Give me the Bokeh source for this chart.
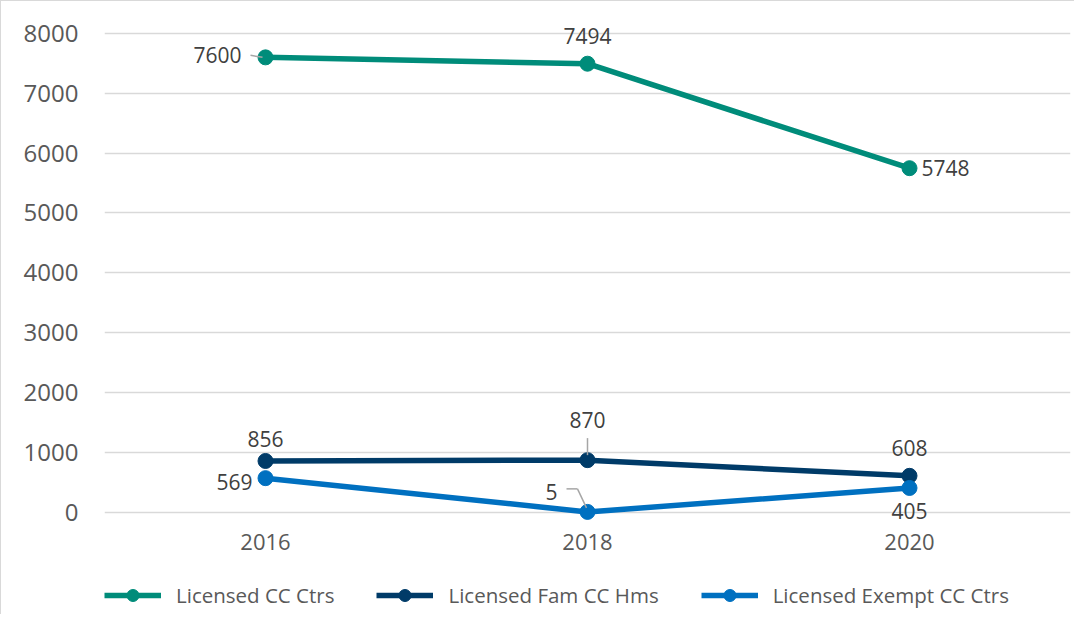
from bokeh.plotting import figure
from bokeh.models import ColumnDataSource, Legend, LegendItem, Range1d, FactorRange, FixedTicker
from bokeh.transform import dodge
from bokeh.core.properties import value
from bokeh.embed import file_html
from bokeh.resources import INLINE

years = ["2016", "2018", "2020"]
ctrs = [7600, 7494, 5748]
fam = [856, 870, 608]
exempt = [569, 5, 405]
series_names = ["Licensed CC Ctrs", "Licensed Fam CC Hms", "Licensed Exempt CC Ctrs"]
colors = ["#008C7A", "#003B68", "#0070C0"]
y_ticks = [0, 1000, 2000, 3000, 4000, 5000, 6000, 7000, 8000]

FONT = "Open Sans"
W, H = 1074, 614
MBT, MBB = 2, 0
ppu = 478 / 8000.0  # px per data unit
Y1 = 8500
Y0 = Y1 - (H - 1 - MBT - MBB) / ppu
cw = (1070 - 104) / 3.0  # px per category

p = figure(x_range=FactorRange(*years), y_range=Range1d(Y0, Y1), width=W, height=H,
           output_backend="svg", toolbar_location=None,
           min_border_left=103, min_border_right=5, min_border_top=MBT, min_border_bottom=MBB)
p.styles = {"border-top": "1px solid #d9d9d9", "border-left": "1px solid #d9d9d9"}
p.outline_line_color = None
p.xgrid.grid_line_color = None
p.ygrid.grid_line_color = "#d9d9d9"
p.ygrid.grid_line_width = 1.5
p.yaxis.ticker = FixedTicker(ticks=y_ticks)
for ax in (p.xaxis[0], p.yaxis[0]):
    ax.major_tick_in = 0
    ax.major_tick_out = 0
    ax.minor_tick_in = 0
    ax.minor_tick_out = 0
    ax.axis_line_color = None
    ax.major_label_text_font = FONT
    ax.major_label_text_color = "#595959"
p.xaxis.fixed_location = 0
p.yaxis.major_label_text_font_size = "24px"
p.xaxis.major_label_text_font_size = "22px"
p.yaxis.major_label_standoff = 26
p.xaxis.major_label_standoff = 22

src = ColumnDataSource(dict(x=years, ctrs=ctrs, fam=fam, exempt=exempt))
renderers = []
for col, c in zip(["ctrs", "fam", "exempt"], colors):
    l = p.line("x", col, source=src, line_color=c, line_width=5.5)
    m = p.scatter("x", col, source=src, size=15, fill_color=c, line_color=c)
    renderers.append([l, m])


def leader(year, yval, dx0, dy0, dx1, dy1):
    # offsets in px (dy positive = up) from the data point
    p.segment(x0=dodge("x", dx0 / cw, range=p.x_range), y0=yval + dy0 / ppu,
              x1=dodge("x", dx1 / cw, range=p.x_range), y1=yval + dy1 / ppu,
              source=ColumnDataSource(dict(x=[year])), line_color="#a6a6a6", line_width=1.5)


leader(years[0], ctrs[0], -15, 2, -3, 0)
leader(years[1], fam[1], 0, 22, 0, 5)
leader(years[1], exempt[1], -21, 23, -10, 23)
leader(years[1], exempt[1], -10, 23, -1, 4)

# data labels: (series values, index, x_offset, y_offset, align)
labels = [
    (ctrs, 0, -24, -2, "right"),
    (ctrs, 1, 0, -28, "center"),
    (ctrs, 2, 12, 0, "left"),
    (fam, 0, 0, -22, "center"),
    (fam, 1, 0, -40, "center"),
    (fam, 2, 0, -28, "center"),
    (exempt, 0, -13, 4, "right"),
    (exempt, 1, -36, -20, "center"),
    (exempt, 2, 0, 23, "center"),
]
for vals, i, xo, yo, al in labels:
    p.text(x=[years[i]], y=[vals[i]], text=[str(vals[i])], x_offset=xo, y_offset=yo,
           text_align=al, text_baseline="middle", text_font=value(FONT),
           text_font_size="21px", text_color="#404040")

legend = Legend(items=[LegendItem(label=n, renderers=r) for n, r in zip(series_names, renderers)],
                orientation="horizontal", location=(0, 5), padding=0, margin=0,
                border_line_color=None, background_fill_alpha=0,
                glyph_width=57, glyph_height=30, label_standoff=15, spacing=42,
                label_text_font=FONT, label_text_font_size="20.5px", label_text_color="#595959",
                label_height=30)
p.add_layout(legend, "center")

open("out.html", "w").write(file_html(p, INLINE))
